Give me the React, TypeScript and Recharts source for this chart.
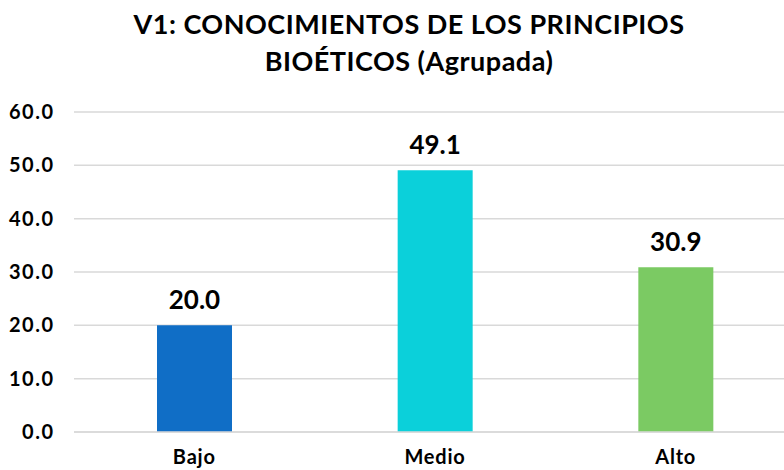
import { BarChart, Bar, XAxis, YAxis, CartesianGrid, LabelList, Cell } from "recharts";

const categories = ["Bajo", "Medio", "Alto"];
const values = [20.0, 49.1, 30.9];
const colors = ["#106EC6", "#0BD0DA", "#7BCA63"];
const yTicks = [0, 10, 20, 30, 40, 50, 60];

const data = categories.map((name, i) => ({ name, value: values[i] }));

const font = "Lato, 'Open Sans', sans-serif";

export default function App() {
  return (
    <div
      style={{
        position: "absolute",
        left: 0,
        top: 0,
        width: 784,
        height: 470,
        overflow: "hidden",
        background: "#fff",
        fontFamily: font,
      }}
    >
      <div
        style={{
          position: "absolute",
          top: 5,
          left: 0,
          width: 818,
          textAlign: "center",
          fontWeight: 700,
          fontSize: 27,
          letterSpacing: 0.5,
          lineHeight: "37px",
          color: "#000",
        }}
      >
        V1: CONOCIMIENTOS DE LOS PRINCIPIOS
        <br />
        BIOÉTICOS (Agrupada)
      </div>
      <BarChart
        width={800}
        height={470}
        data={data}
        margin={{ top: 112, right: 4, bottom: 8, left: 0 }}
        barSize={75}
      >
        <CartesianGrid vertical={false} stroke="#D9D9D9" strokeWidth={1.5} />
        <XAxis
          dataKey="name"
          axisLine={{ stroke: "#D9D9D9", strokeWidth: 1.5 }}
          tickLine={false}
          tickSize={0}
          tickMargin={18}
          height={30}
          tick={{ fill: "#000", fontSize: 20, fontWeight: 700, fontFamily: font, letterSpacing: 0.8 }}
        />
        <YAxis
          domain={[0, 60]}
          ticks={yTicks}
          width={74}
          axisLine={false}
          tickLine={false}
          tickSize={0}
          tickMargin={19.5}
          tickFormatter={(v: number) => v.toFixed(1)}
          tick={{ fill: "#000", fontSize: 20, fontWeight: 700, fontFamily: font, letterSpacing: 1.5 }}
        />
        <Bar dataKey="value" isAnimationActive={false}>
          {data.map((d, i) => (
            <Cell key={d.name} fill={colors[i]} />
          ))}
          <LabelList
            dataKey="value"
            position="top"
            offset={16}
            formatter={(v: number) => v.toFixed(1)}
            style={{ fill: "#000", fontSize: 26, fontWeight: 700, fontFamily: font }}
          />
        </Bar>
      </BarChart>
    </div>
  );
}
